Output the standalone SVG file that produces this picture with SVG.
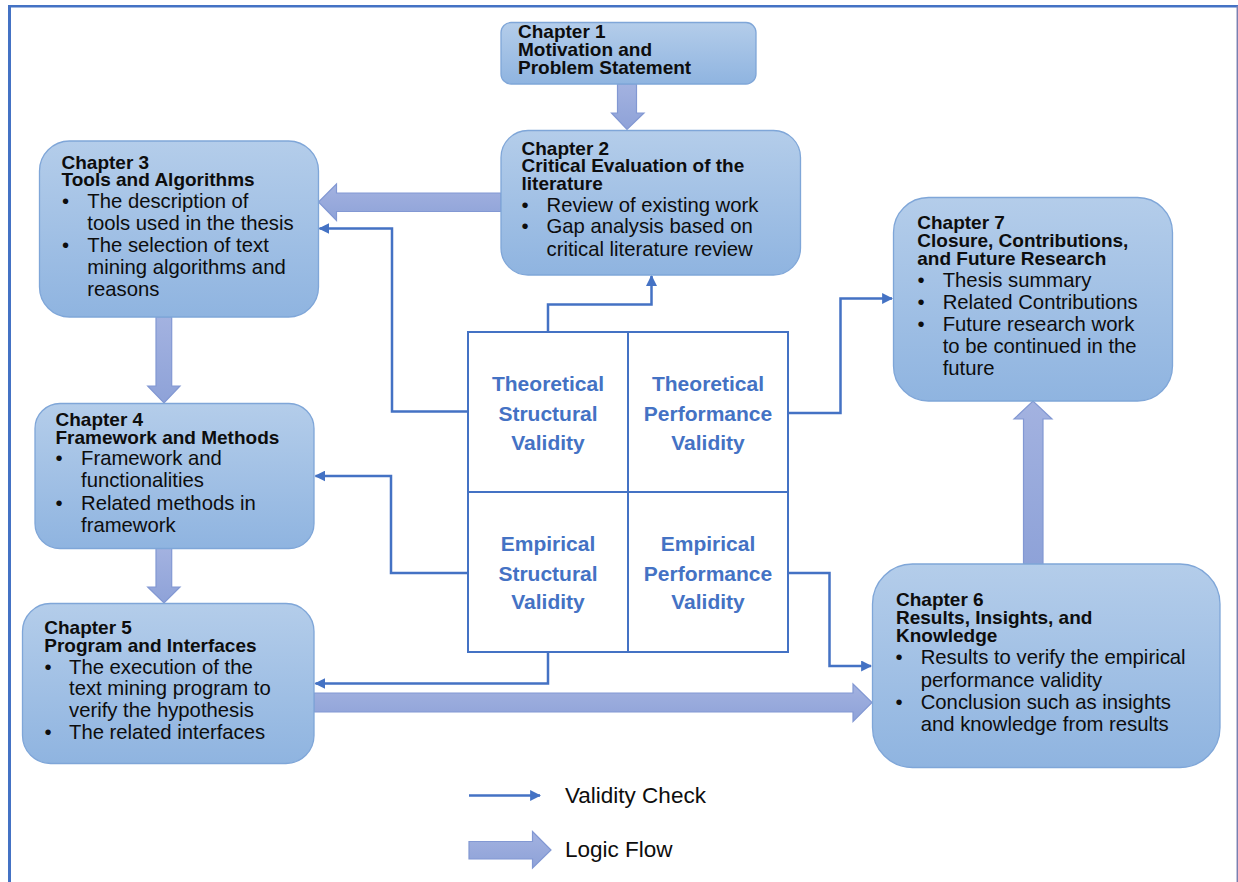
<svg xmlns="http://www.w3.org/2000/svg" width="1238" height="882" viewBox="0 0 1238 882">
  <style>
    .box { fill: url(#boxFill); stroke: #7fa6d8; stroke-width: 1.3; }
    .head { font-family: "Liberation Sans", Arial, sans-serif; font-weight: bold; font-size: 19px; fill: #0d0d0d; }
    .body { font-family: "Liberation Sans", Arial, sans-serif; font-size: 20.3px; fill: #0d0d0d; }
    .cell { font-family: "Liberation Sans", Arial, sans-serif; font-weight: bold; font-size: 21px; fill: #4472c4; text-anchor: middle; }
    .legend { font-family: "Liberation Sans", Arial, sans-serif; font-size: 22.5px; fill: #0d0d0d; }
    .check { fill: none; stroke: #4472c4; stroke-width: 2.5; marker-end: url(#tip); }
    .flow { fill: url(#flowFill); stroke: #8298d3; stroke-width: 1.2; }
    .grid { fill: #ffffff; stroke: #4472c4; stroke-width: 2; }
  </style>
  <defs>
    <linearGradient id="boxFill" x1="0" y1="0" x2="0" y2="1">
      <stop offset="0" stop-color="#b4cdea"/>
      <stop offset="1" stop-color="#8fb4e0"/>
    </linearGradient>
    <linearGradient id="flowFill" x1="0" y1="0" x2="0" y2="1">
      <stop offset="0" stop-color="#a3b2e0"/>
      <stop offset="1" stop-color="#8ea2d8"/>
    </linearGradient>
    <marker id="tip" viewBox="0 0 10 10" refX="9" refY="5" markerWidth="4.4" markerHeight="4.4" orient="auto" markerUnits="strokeWidth">
      <path d="M0,0 L10,5 L0,10 z" fill="#4472c4"/>
    </marker>
  </defs>

  <!-- page frame -->
  <g id="frame">
    <line x1="9.5" y1="5" x2="9.5" y2="882" stroke="#4472c4" stroke-width="3"/>
    <line x1="8" y1="6.2" x2="1238" y2="6.2" stroke="#4472c4" stroke-width="2.5"/>
    <line x1="1237.3" y1="6" x2="1237.3" y2="882" stroke="#7a80b0" stroke-width="1.5"/>
  </g>

  <!-- logic flow and validity check connectors -->
  <g id="connectors">
    <!-- Ch1 -> Ch2 -->
    <path class="flow" d="M617.5,84 H636.5 V113 H644 L627,129.5 L611.5,113 H617.5 Z"/>
    <!-- Ch2 -> Ch3 -->
    <path class="flow" d="M501,193 V211.5 H336.5 V220.5 L318.5,202 L336.5,184 V193 Z"/>
    <!-- Ch3 -> Ch4 -->
    <path class="flow" d="M156,317 H171.7 V386 H180 L164,403 L147.7,386 H156 Z"/>
    <!-- Ch4 -> Ch5 -->
    <path class="flow" d="M156,548.5 H171.7 V587 H180 L164,603 L147.7,587 H156 Z"/>
    <!-- Ch5 -> Ch6 -->
    <path class="flow" d="M314,693 H853 V684 L872,702.5 L853,721.5 V712 H314 Z"/>
    <!-- Ch6 -> Ch7 -->
    <path class="flow" d="M1023.5,564 V419 H1014 L1033,401 L1052,419 H1043 V564 Z"/>

    <!-- validity checks from the grid -->
    <polyline class="check" points="548,332 548,304.5 651.5,304.5 651.5,276"/>
    <polyline class="check" points="468,411.5 392,411.5 392,228.5 319.5,228.5"/>
    <polyline class="check" points="788,413 840.5,413 840.5,298.5 892,298.5"/>
    <polyline class="check" points="468,573 391,573 391,476 315.5,476"/>
    <polyline class="check" points="548,652 548,683.5 315.5,683.5"/>
    <polyline class="check" points="788,573 829.5,573 829.5,666 871,666"/>
  </g>

  <!-- Chapter 1 -->
  <g id="ch1">
    <rect class="box" x="501" y="22.5" width="255" height="61.5" rx="10"/>
    <text class="head" x="518" y="37.5">Chapter 1</text>
    <text class="head" x="518" y="55.5">Motivation and</text>
    <text class="head" x="518" y="73.5">Problem Statement</text>
  </g>

  <!-- Chapter 2 -->
  <g id="ch2">
    <rect class="box" x="501" y="130.5" width="299.5" height="144.5" rx="27"/>
    <text class="head" x="521.5" y="154.5">Chapter 2</text>
    <text class="head" x="521.5" y="172">Critical Evaluation of the</text>
    <text class="head" x="521.5" y="190">literature</text>
    <text class="body" x="521.5" y="211.7">•</text>
    <text class="body" x="546.5" y="211.7">Review of existing work</text>
    <text class="body" x="521.5" y="233">•</text>
    <text class="body" x="546.5" y="233">Gap analysis based on</text>
    <text class="body" x="546.5" y="256">critical literature review</text>
  </g>

  <!-- Chapter 3 -->
  <g id="ch3">
    <rect class="box" x="39.5" y="141" width="279" height="176" rx="30"/>
    <text class="head" x="61.5" y="168.5">Chapter 3</text>
    <text class="head" x="61.5" y="186">Tools and Algorithms</text>
    <text class="body" x="62" y="207.5">•</text>
    <text class="body" x="87.3" y="207.5">The description of</text>
    <text class="body" x="87.3" y="229.5">tools used in the thesis</text>
    <text class="body" x="62" y="252">•</text>
    <text class="body" x="87.3" y="252">The selection of text</text>
    <text class="body" x="87.3" y="274">mining algorithms and</text>
    <text class="body" x="87.3" y="296">reasons</text>
  </g>

  <!-- Chapter 4 -->
  <g id="ch4">
    <rect class="box" x="35" y="403.5" width="279" height="145" rx="25"/>
    <text class="head" x="55.5" y="426">Chapter 4</text>
    <text class="head" x="55.5" y="443.5">Framework and Methods</text>
    <text class="body" x="55.5" y="465">•</text>
    <text class="body" x="81" y="465">Framework and</text>
    <text class="body" x="81" y="487">functionalities</text>
    <text class="body" x="55.5" y="509.5">•</text>
    <text class="body" x="81" y="509.5">Related methods in</text>
    <text class="body" x="81" y="531.7">framework</text>
  </g>

  <!-- Chapter 5 -->
  <g id="ch5">
    <rect class="box" x="22.5" y="603.5" width="291.5" height="160" rx="28"/>
    <text class="head" x="44.3" y="634">Chapter 5</text>
    <text class="head" x="44.3" y="652">Program and Interfaces</text>
    <text class="body" x="44.5" y="673.5">•</text>
    <text class="body" x="69" y="673.5">The execution of the</text>
    <text class="body" x="69" y="695">text mining program to</text>
    <text class="body" x="69" y="717.3">verify the hypothesis</text>
    <text class="body" x="44.5" y="739.3">•</text>
    <text class="body" x="69" y="739.3">The related interfaces</text>
  </g>

  <!-- Chapter 6 -->
  <g id="ch6">
    <rect class="box" x="872.5" y="564" width="347.5" height="203.5" rx="40"/>
    <text class="head" x="896" y="606">Chapter 6</text>
    <text class="head" x="896" y="623.5">Results, Insights, and</text>
    <text class="head" x="896" y="642">Knowledge</text>
    <text class="body" x="895.5" y="664">•</text>
    <text class="body" x="920.7" y="664">Results to verify the empirical</text>
    <text class="body" x="920.7" y="686.7">performance validity</text>
    <text class="body" x="895.5" y="709">•</text>
    <text class="body" x="920.7" y="709">Conclusion such as insights</text>
    <text class="body" x="920.7" y="731">and knowledge from results</text>
  </g>

  <!-- Chapter 7 -->
  <g id="ch7">
    <rect class="box" x="893.5" y="197.5" width="279" height="203.5" rx="35"/>
    <text class="head" x="917.3" y="228.5">Chapter 7</text>
    <text class="head" x="917.3" y="247">Closure, Contributions,</text>
    <text class="head" x="917.3" y="264.5">and Future Research</text>
    <text class="body" x="917.5" y="286.7">•</text>
    <text class="body" x="942.7" y="286.7">Thesis summary</text>
    <text class="body" x="917.5" y="309">•</text>
    <text class="body" x="942.7" y="309">Related Contributions</text>
    <text class="body" x="917.5" y="331">•</text>
    <text class="body" x="942.7" y="331">Future research work</text>
    <text class="body" x="942.7" y="353.3">to be continued in the</text>
    <text class="body" x="942.7" y="375">future</text>
  </g>

  <!-- validity grid -->
  <g id="validity-grid">
    <rect class="grid" x="468" y="332" width="320" height="320"/>
    <line x1="628" y1="332" x2="628" y2="652" stroke="#4472c4" stroke-width="2"/>
    <line x1="468" y1="492" x2="788" y2="492" stroke="#4472c4" stroke-width="2"/>
    <text class="cell" x="548" y="391">Theoretical</text>
    <text class="cell" x="548" y="420.5">Structural</text>
    <text class="cell" x="548" y="449.5">Validity</text>
    <text class="cell" x="708" y="391">Theoretical</text>
    <text class="cell" x="708" y="420.5">Performance</text>
    <text class="cell" x="708" y="449.5">Validity</text>
    <text class="cell" x="548" y="551">Empirical</text>
    <text class="cell" x="548" y="580.5">Structural</text>
    <text class="cell" x="548" y="609">Validity</text>
    <text class="cell" x="708" y="551">Empirical</text>
    <text class="cell" x="708" y="580.5">Performance</text>
    <text class="cell" x="708" y="609">Validity</text>
  </g>

  <!-- legend -->
  <g id="legend">
    <line class="check" x1="469" y1="795.5" x2="540" y2="795.5"/>
    <text class="legend" x="565" y="803">Validity Check</text>
    <path class="flow" d="M469,841.5 H532.5 V831.5 L551,850 L532.5,868 V859 H469 Z"/>
    <text class="legend" x="565" y="857">Logic Flow</text>
  </g>
</svg>
